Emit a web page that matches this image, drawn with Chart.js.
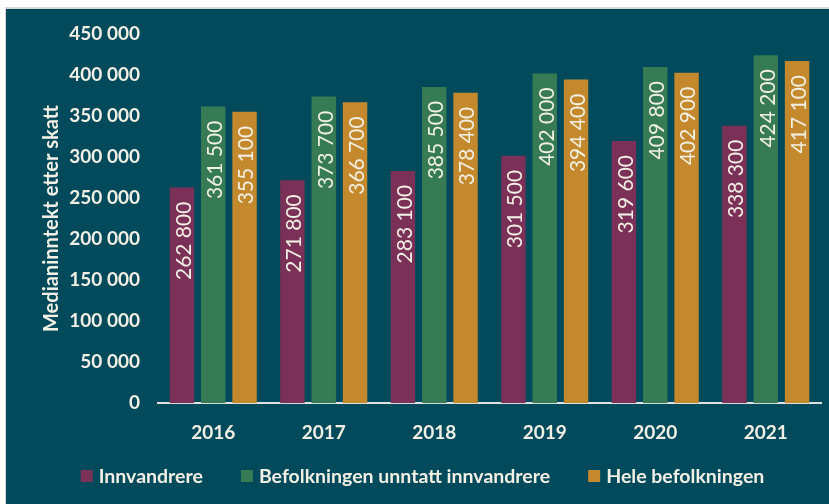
<!DOCTYPE html>
<html>
<head>
<meta charset="utf-8">
<script src="https://cdn.jsdelivr.net/npm/chart.js@4"></script>
<style>
  html, body { margin: 0; padding: 0; background: #ffffff; }
  #wrap {
    position: absolute; left: 5px; top: 7px; width: 824px; height: 497px;
    border-left: 1px solid #d6d6d6; border-top: 2px solid #d6d6d6;
    background: #014a5c;
  }
</style>
</head>
<body>
<div id="wrap"><canvas id="incomeChart" width="823" height="495"></canvas></div>
<script>
const years = ['2016', '2017', '2018', '2019', '2020', '2021'];
const innvandrere = [262800, 271800, 283100, 301500, 319600, 338300];
const unntattInnvandrere = [361500, 373700, 385500, 402000, 409800, 424200];
const heleBefolkningen = [355100, 366700, 378400, 394400, 402900, 417100];

const textColor = '#f2f0e4';
const fontFamily = "Lato, 'Open Sans', sans-serif";

// thousands with a space, like "262 800"
const fmt = v => String(v).replace(/\B(?=(\d{3})+(?!\d))/g, ' ');

// labels written inside the bars, reading upwards
const barLabels = {
    id: 'barLabels',
    afterDatasetsDraw(chart) {
        const ctx = chart.ctx;
        ctx.save();
        ctx.fillStyle = textColor;
        ctx.font = '21px ' + fontFamily;
        ctx.textAlign = 'right';
        ctx.textBaseline = 'middle';
        chart.data.datasets.forEach((ds, i) => {
            chart.getDatasetMeta(i).data.forEach((bar, j) => {
                ctx.save();
                ctx.translate(bar.x + 1, bar.y + 14);
                ctx.rotate(-Math.PI / 2);
                ctx.fillText(fmt(ds.data[j]), 0, 1);
                ctx.restore();
            });
        });
        ctx.restore();
    }
};

// legend row under the axis (boxes 12px, wide gaps between items)
const bottomLegend = {
    id: 'bottomLegend',
    afterDraw(chart) {
        const ctx = chart.ctx;
        const y = 467, box = 12, gapBox = 6, gapItem = 38;
        ctx.save();
        ctx.font = 'bold 19.5px ' + fontFamily;
        ctx.textBaseline = 'middle';
        ctx.textAlign = 'left';
        const items = chart.data.datasets.map(ds => ({
            text: ds.label, color: ds.backgroundColor, w: ctx.measureText(ds.label).width
        }));
        const total = items.reduce((s, it) => s + box + gapBox + it.w, 0) + gapItem * (items.length - 1);
        let x = chart.width / 2 + 5 - total / 2;
        items.forEach(it => {
            ctx.fillStyle = it.color;
            ctx.fillRect(x, y - box / 2, box, box);
            ctx.fillStyle = textColor;
            ctx.fillText(it.text, x + box + gapBox, y + 1);
            x += box + gapBox + it.w + gapItem;
        });
        ctx.restore();
    }
};

new Chart(document.getElementById('incomeChart'), {
    type: 'bar',
    data: {
        labels: years,
        datasets: [
            { label: 'Innvandrere', data: innvandrere, backgroundColor: '#7b3157' },
            { label: 'Befolkningen unntatt innvandrere', data: unntattInnvandrere, backgroundColor: '#367b53' },
            { label: 'Hele befolkningen', data: heleBefolkningen, backgroundColor: '#c4892c' },
        ],
    },
    options: {
        responsive: false,
        animation: false,
        datasets: { bar: { categoryPercentage: 0.85, barPercentage: 0.78 } },
        layout: { padding: { top: 0, right: 8, bottom: 42, left: 30 } },
        plugins: {
            tooltip: { enabled: false },
            legend: { display: false },
        },
        scales: {
            x: {
                grid: { display: false, drawTicks: false },
                border: { color: '#dfe3e3', width: 2 },
                ticks: { color: textColor, padding: 18, font: { family: fontFamily, size: 19, weight: 'bold' } },
            },
            y: {
                min: 0, max: 450000,
                grid: { display: false, drawTicks: false },
                border: { display: false },
                ticks: {
                    stepSize: 50000, color: textColor, padding: 18,
                    font: { family: fontFamily, size: 19, weight: 'bold' },
                    callback: v => fmt(v),
                },
                title: {
                    display: true, text: 'Medianinntekt etter skatt', color: textColor,
                    font: { family: fontFamily, size: 20, weight: 'bold' },
                },
                afterFit: axis => { axis.width = 122; axis.paddingTop = 25; },
            },
        },
    },
    plugins: [barLabels, bottomLegend],
});
</script>
</body>
</html>
